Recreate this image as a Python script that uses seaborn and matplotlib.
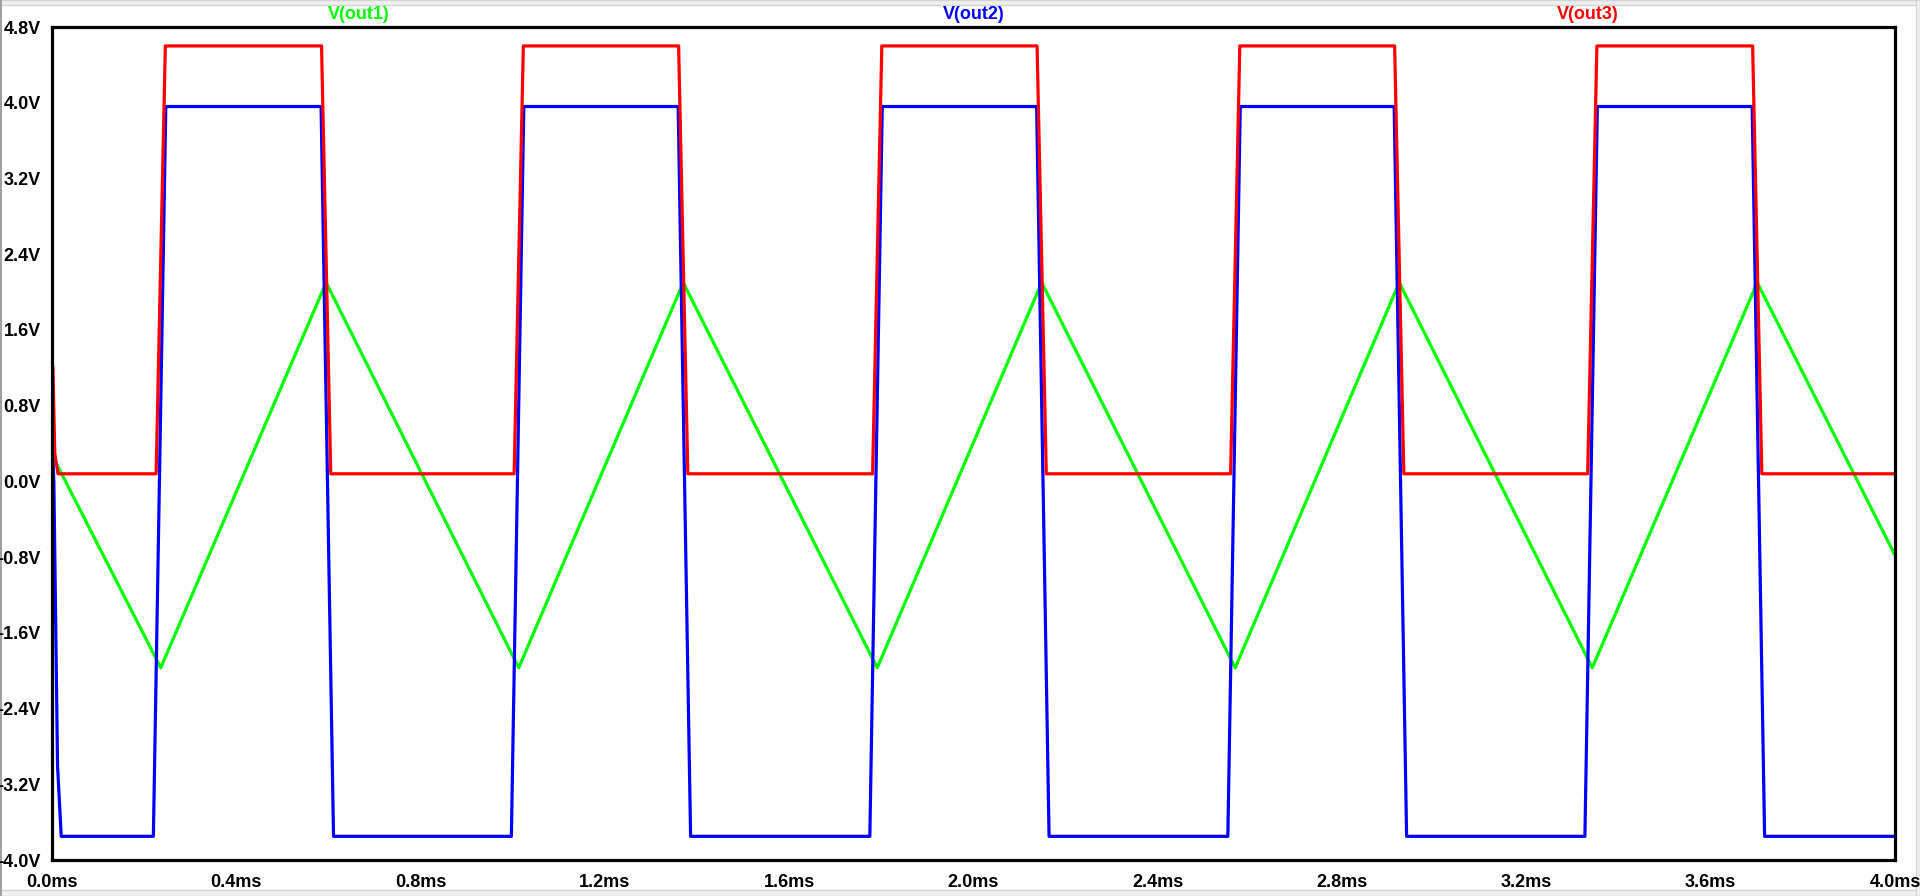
import numpy as np
import pandas as pd
import matplotlib
matplotlib.use("Agg")
import matplotlib.pyplot as plt
import seaborn as sns
from matplotlib.patches import Rectangle

# time in ms, voltage in V
# V(out1): triangle wave, vertices only
t_out1 = [0.0, 0.236, 0.595, 1.013, 1.370, 1.791, 2.148, 2.568, 2.924, 3.343, 3.701, 4.0]
v_out1 = [0.28, -1.97, 2.10, -1.97, 2.10, -1.97, 2.10, -1.97, 2.10, -1.97, 2.10, -0.78]

# V(out2): square wave, corners of each edge
t_out2 = [0.0, 0.004, 0.012, 0.020,
          0.220, 0.247, 0.584, 0.611,
          0.997, 1.024, 1.359, 1.386,
          1.775, 1.802, 2.137, 2.164,
          2.552, 2.579, 2.913, 2.940,
          3.327, 3.354, 3.690, 3.717,
          4.0]
v_out2 = [0.52, 0.0, -3.0, -3.75,
          -3.75, 3.96, 3.96, -3.75,
          -3.75, 3.96, 3.96, -3.75,
          -3.75, 3.96, 3.96, -3.75,
          -3.75, 3.96, 3.96, -3.75,
          -3.75, 3.96, 3.96, -3.75,
          -3.75]

# V(out3): comparator output, corners of each edge
t_out3 = [0.0, 0.002, 0.006, 0.013,
          0.226, 0.246, 0.585, 0.605,
          1.003, 1.023, 1.360, 1.380,
          1.781, 1.801, 2.138, 2.158,
          2.558, 2.578, 2.914, 2.934,
          3.333, 3.353, 3.691, 3.711,
          4.0]
v_out3 = [1.24, 1.20, 0.30, 0.08,
          0.08, 4.60, 4.60, 0.08,
          0.08, 4.60, 4.60, 0.08,
          0.08, 4.60, 4.60, 0.08,
          0.08, 4.60, 4.60, 0.08,
          0.08, 4.60, 4.60, 0.08,
          0.08]

y_ticks = [-4.0, -3.2, -2.4, -1.6, -0.8, 0.0, 0.8, 1.6, 2.4, 3.2, 4.0, 4.8]
x_ticks = [0.0, 0.4, 0.8, 1.2, 1.6, 2.0, 2.4, 2.8, 3.2, 3.6, 4.0]

names = ["V(out1)", "V(out2)", "V(out3)"]
colors = ["#00ff00", "#0000ff", "#ff0000"]

sns.set_style("white")
plt.rcParams["font.family"] = ["Liberation Sans", "DejaVu Sans"]
plt.rcParams["font.weight"] = "bold"

fig = plt.figure(figsize=(19.2, 8.96), dpi=100)
ax = fig.add_axes([52 / 1920, 1 - 860 / 896, 1843 / 1920, 833 / 896])

series = [(t_out1, v_out1), (t_out2, v_out2), (t_out3, v_out3)]
for (t, v), c in zip(series, colors):
    df = pd.DataFrame({"t": t, "v": v})
    sns.lineplot(data=df, x="t", y="v", color=c, linewidth=2.3,
                 sort=False, estimator=None, ax=ax)

ax.set_xlim(0, 4.0)
ax.set_ylim(-4.0, 4.8)
ax.set_xticks(x_ticks)
ax.set_xticklabels([f"{x:.1f}ms" for x in x_ticks])
ax.set_yticks(y_ticks)
ax.set_yticklabels([f"{y:.1f}V" for y in y_ticks])
ax.set_xlabel("")
ax.set_ylabel("")
ax.tick_params(axis="both", direction="out", length=8, width=2.3,
               color="black", labelsize=13, labelcolor="black")
ax.tick_params(axis="y", pad=0)
ax.tick_params(axis="x", pad=2)
for lab in ax.get_xticklabels() + ax.get_yticklabels():
    lab.set_fontweight("bold")
for s in ax.spines.values():
    s.set_visible(True)
    s.set_color("black")
    s.set_linewidth(2.3)
ax.grid(False)

# trace names above the plot, LTspice style
for xpos, name, c in zip([1 / 6, 0.5, 5 / 6], names, colors):
    ax.text(xpos, 1.005, name, transform=ax.transAxes, ha="center", va="bottom",
            color=c, fontsize=13, fontweight="bold")

# window frame bits, kept behind the axes and labels
frame = [((0, 1 - 5 / 896), 1, 5 / 896, "#f0f0f0", "#d4d4d4"),
         ((0, 0), 1, 6 / 896, "#f0f0f0", "#d4d4d4"),
         ((0, 0), 2 / 1920, 1, "#a0a0a0", "none"),
         ((1 - 4 / 1920, 0), 4 / 1920, 1, "#f0f0f0", "#d4d4d4")]
for xy, w, h, fc, ec in frame:
    fig.patches.append(Rectangle(xy, w, h, transform=fig.transFigure,
                                 facecolor=fc, edgecolor=ec, lw=1, zorder=-5))

fig.savefig("out.png", dpi=100)
